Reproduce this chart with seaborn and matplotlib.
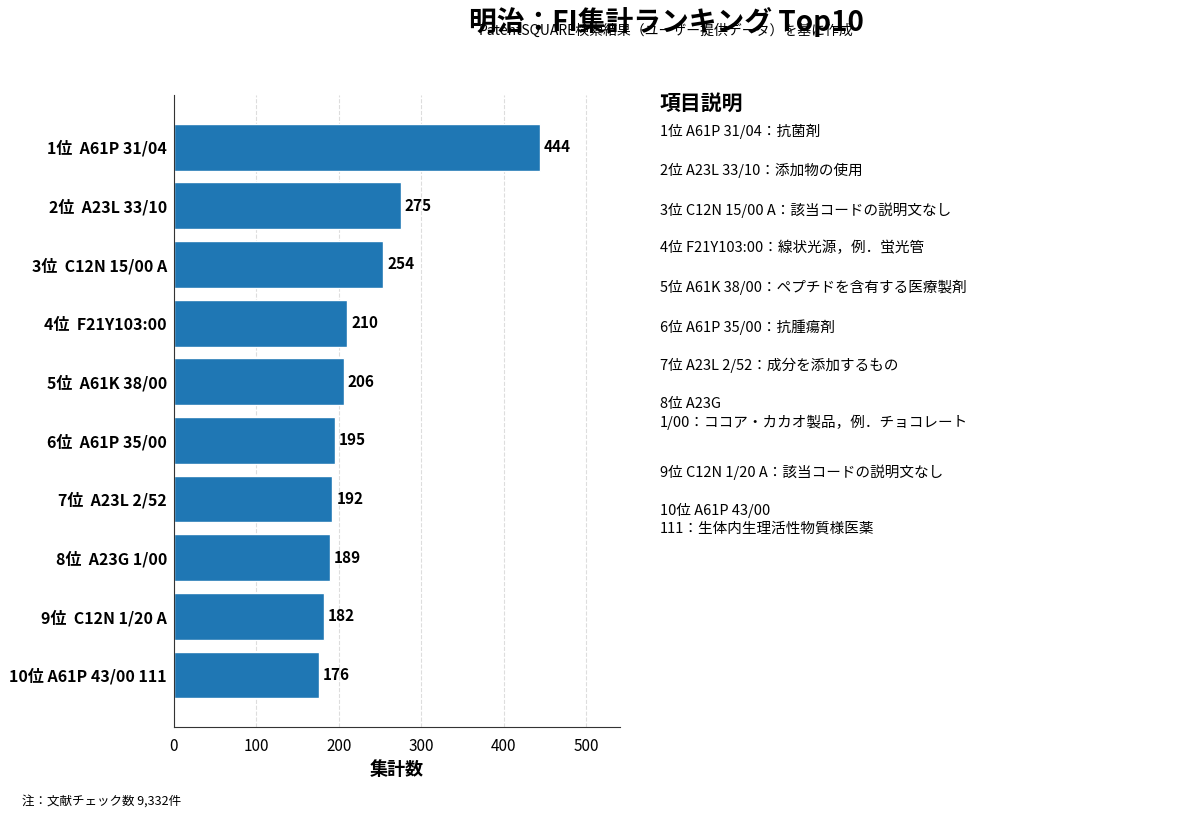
import numpy as np
import pandas as pd
from matplotlib import pyplot as plt
import seaborn as sns

ranks = [1, 2, 3, 4, 5, 6, 7, 8, 9, 10]
codes = ['A61P 31/04', 'A23L 33/10', 'C12N 15/00 A', 'F21Y103:00', 'A61K 38/00',
         'A61P 35/00', 'A23L 2/52', 'A23G 1/00', 'C12N 1/20 A', 'A61P 43/00 111']
counts = [444, 275, 254, 210, 206, 195, 192, 189, 182, 176]
descriptions = [
    '1位 A61P 31/04：抗菌剤',
    '2位 A23L 33/10：添加物の使用',
    '3位 C12N 15/00 A：該当コードの説明文なし',
    '4位 F21Y103:00：線状光源，例．蛍光管',
    '5位 A61K 38/00：ペプチドを含有する医療製剤',
    '6位 A61P 35/00：抗腫瘍剤',
    '7位 A23L 2/52：成分を添加するもの',
    '8位 A23G\n1/00：ココア・カカオ製品，例．チョコレート',
    '9位 C12N 1/20 A：該当コードの説明文なし',
    '10位 A61P 43/00\n111：生体内生理活性物質様医薬',
]

sns.set_style('white')
plt.rcParams['font.family'] = ['Noto Sans CJK JP', 'DejaVu Sans']
plt.rcParams['text.color'] = 'black'
plt.rcParams['xtick.color'] = 'black'
plt.rcParams['ytick.color'] = 'black'
plt.rcParams['axes.labelcolor'] = 'black'

df = pd.DataFrame({
    'label': [f'{r}位'.ljust(3) + ' ' + c for r, c in zip(ranks, codes)],
    'count': counts,
})

fig = plt.figure(figsize=(12, 8.18), dpi=100)
ax = fig.add_axes([0.145, 0.111, 0.372, 0.773])

sns.barplot(data=df, y='label', x='count', orient='h', color='#1f77b4',
            saturation=1, width=0.8, ax=ax)
ax.set_xlim(0, max(counts) * 1.22)
ax.set_ylim(len(counts) - 1 + 0.89, -0.89)
ax.set_xticks([0, 100, 200, 300, 400, 500])
ax.xaxis.grid(True, linestyle='--', color='#dddddd', linewidth=0.8)
ax.set_axisbelow(True)
sns.despine(ax=ax)
ax.spines['left'].set_color('#333333')
ax.spines['bottom'].set_color('#333333')
ax.tick_params(axis='x', labelsize=11, length=4)
ax.tick_params(axis='y', length=0, pad=5)
for lab in ax.get_yticklabels():
    lab.set_fontsize(11.5)
    lab.set_fontweight('bold')
ax.set_ylabel('')
ax.set_xlabel('集計数', fontsize=13, fontweight='bold')

for i, v in enumerate(counts):
    ax.text(v + 5, i, str(v), va='center', ha='left', fontsize=11, fontweight='bold')

fig.text(0.555, 0.973, '明治：FI集計ランキング Top10', ha='center', va='center',
         fontsize=20, fontweight='bold')
fig.text(0.555, 0.962, 'PatentSQUARE検索結果（ユーザー提供データ）を基に作成', ha='center',
         va='center', fontsize=10)

fig.text(0.55, 0.874, '項目説明', ha='left', va='center', fontsize=15, fontweight='bold')
y = 124
for d in descriptions:
    fig.text(0.55, 1 - y / 818, d, ha='left', va='top', fontsize=10.5, linespacing=1.3)
    y += 39 + 28 * d.count('\n')

fig.text(0.018, 0.02, '注：文献チェック数 9,332件', ha='left', va='center', fontsize=9)

plt.savefig('out.png')
